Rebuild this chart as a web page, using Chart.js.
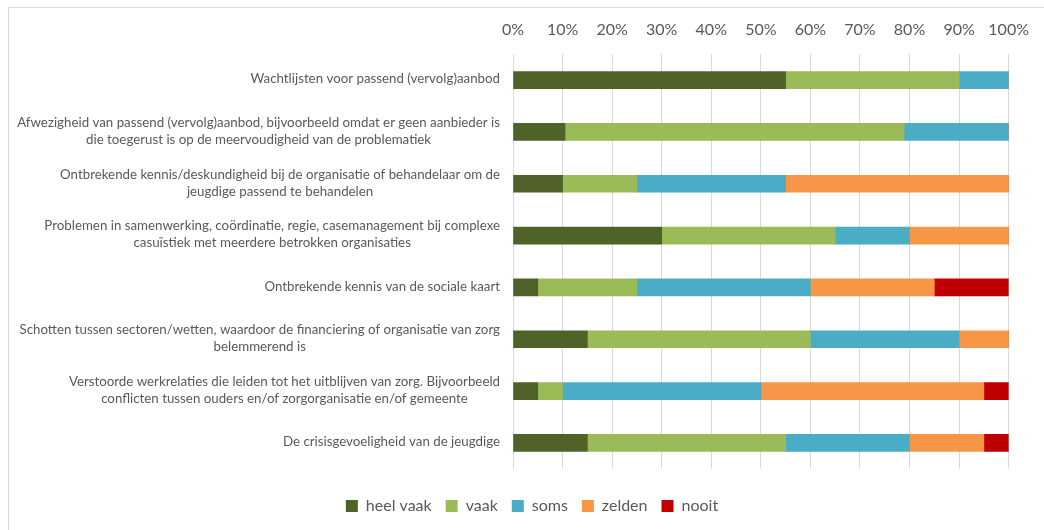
<!DOCTYPE html>
<html>
<head>
<meta charset="utf-8">
<script src="https://cdn.jsdelivr.net/npm/chart.js@4.4.1/dist/chart.umd.min.js"></script>
<style>
    html, body { margin: 0; padding: 0; background: #fff; }
    #wrap { position: relative; width: 1044px; height: 530px; }
    #frame {
        position: absolute; left: 8px; top: 7px; right: -2px; bottom: -2px;
        border-top: 1px solid #d9d9d9; border-left: 1px solid #d9d9d9;
    }
</style>
</head>
<body>
<div id="wrap">
    <div id="frame"></div>
    <canvas id="myChart" width="1044" height="530"></canvas>
</div>
<script>
// categories (one array per label, one string per line)
const categories = [
    ['Wachtlijsten voor passend (vervolg)aanbod'],
    ['Afwezigheid van passend (vervolg)aanbod, bijvoorbeeld omdat er geen aanbieder is', 'die toegerust is op de meervoudigheid van de problematiek'],
    ['Ontbrekende kennis/deskundigheid bij de organisatie of behandelaar om de', 'jeugdige passend te behandelen'],
    ['Problemen in samenwerking, coördinatie, regie, casemanagement bij complexe', 'casuïstiek met meerdere betrokken organisaties'],
    ['Ontbrekende kennis van de sociale kaart'],
    ['Schotten tussen sectoren/wetten, waardoor de financiering of organisatie van zorg', 'belemmerend is'],
    ['Verstoorde werkrelaties die leiden tot het uitblijven van zorg. Bijvoorbeeld', 'conflicten tussen ouders en/of zorgorganisatie en/of gemeente'],
    ['De crisisgevoeligheid van de jeugdige']
];

// series values (percentages)
const heelVaak = [55, 10.5, 10, 30, 5, 15, 5, 15];
const vaak     = [35, 68.4, 15, 35, 20, 45, 5, 40];
const soms     = [10, 21.1, 30, 15, 35, 30, 40, 25];
const zelden   = [0, 0, 45, 20, 25, 10, 45, 15];
const nooit    = [0, 0, 0, 0, 15, 0, 5, 5];

const seriesNames = ['heel vaak', 'vaak', 'soms', 'zelden', 'nooit'];
const seriesColors = ['#4F6228', '#9BBB59', '#4BACC6', '#F79646', '#C00000'];
const seriesData = [heelVaak, vaak, soms, zelden, nooit];

const textColor = '#595959';
const fontFamily = 'Lato, "Open Sans", sans-serif';

// draws the category labels: lines centred to each other, block right-aligned
const categoryLabels = {
    id: 'categoryLabels',
    afterDraw(chart) {
        const ctx = chart.ctx;
        const yScale = chart.scales.y;
        const rightEdge = chart.chartArea.left - 13;
        const lineHeight = 17;
        ctx.save();
        ctx.font = '13.3px ' + fontFamily;
        ctx.fillStyle = textColor;
        ctx.textAlign = 'center';
        ctx.textBaseline = 'middle';
        categories.forEach((lines, i) => {
            const y = yScale.getPixelForValue(i);
            const maxW = Math.max(...lines.map(l => ctx.measureText(l).width));
            const cx = rightEdge - maxW / 2;
            const startY = y - (lines.length - 1) * lineHeight / 2 - 1;
            lines.forEach((line, j) => {
                ctx.fillText(line, cx, startY + j * lineHeight);
            });
        });
        ctx.restore();
    }
};

const ctx = document.getElementById('myChart').getContext('2d');
const myChart = new Chart(ctx, {
    type: 'bar',
    data: {
        labels: categories,
        datasets: seriesNames.map((name, i) => ({
            label: name,
            data: seriesData[i],
            backgroundColor: seriesColors[i],
            borderWidth: 0,
            barThickness: 17
        }))
    },
    options: {
        indexAxis: 'y',
        responsive: false,
        animation: false,
        layout: {
            padding: { left: 20, right: 0, top: 5, bottom: 6 }
        },
        scales: {
            x: {
                position: 'top',
                stacked: true,
                min: 0,
                max: 100,
                ticks: {
                    stepSize: 10,
                    color: textColor,
                    font: { family: fontFamily, size: 16 },
                    padding: 15,
                    callback: value => value + '%'
                },
                grid: {
                    color: '#d9d9d9',
                    drawTicks: false
                },
                border: { display: false }
            },
            y: {
                stacked: true,
                ticks: { display: false },
                grid: { display: false },
                border: { display: false },
                afterFit: scale => { scale.width = 493; }
            },
            yRight: {
                position: 'right',
                display: true,
                ticks: { display: false },
                grid: { display: false },
                border: { display: false },
                afterFit: scale => { scale.width = 35; }
            }
        },
        plugins: {
            legend: {
                position: 'bottom',
                title: {
                    display: true,
                    text: '',
                    font: { size: 1 },
                    padding: { top: 14, bottom: 0 }
                },
                labels: {
                    color: textColor,
                    font: { family: fontFamily, size: 16 },
                    boxWidth: 12,
                    boxHeight: 12,
                    padding: 14
                }
            },
            tooltip: { enabled: false }
        }
    },
    plugins: [categoryLabels]
});
</script>
</body>
</html>
